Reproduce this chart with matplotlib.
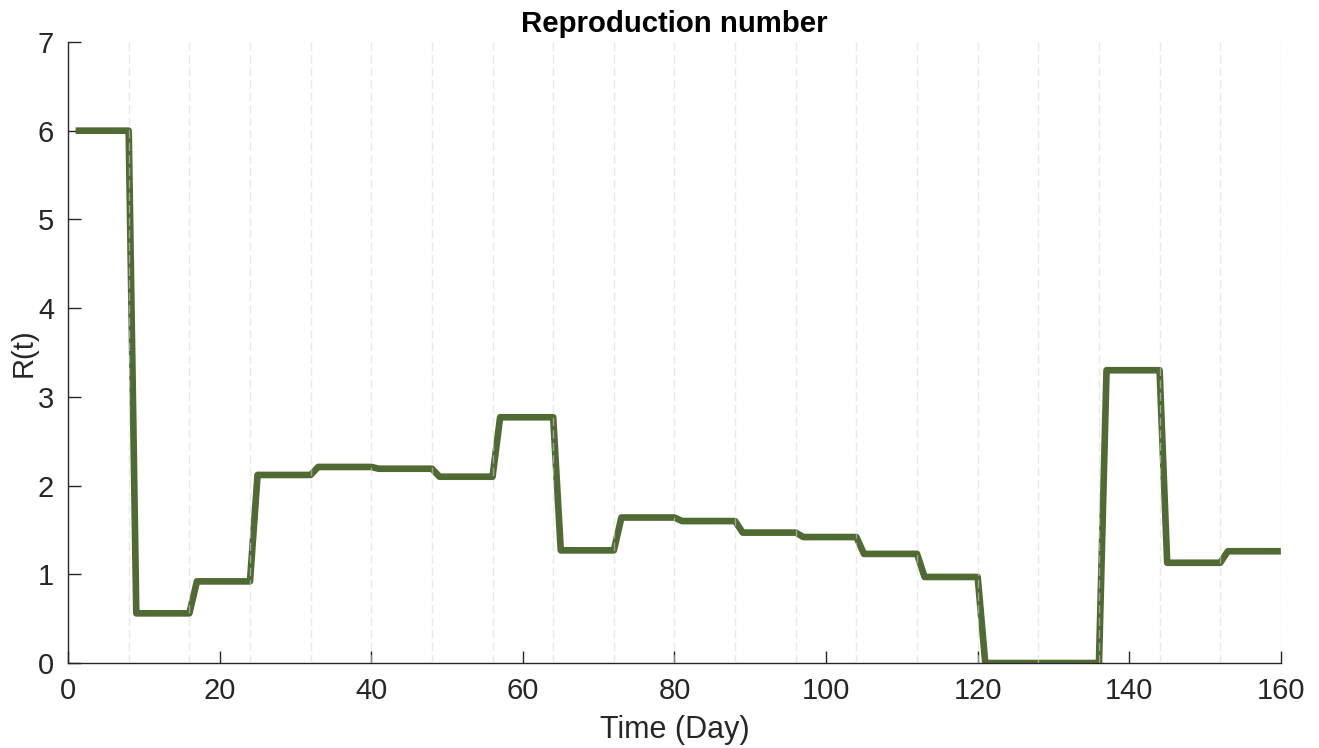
import numpy as np
import matplotlib.pyplot as plt

plt.rcParams['font.family'] = ['Liberation Sans', 'DejaVu Sans']

# one R value per 8-day block
block_len = 8
r_values = [6.00, 0.56, 0.92, 2.12, 2.21, 2.19, 2.10, 2.77, 1.27, 1.64,
            1.60, 1.47, 1.42, 1.23, 0.97, 0.00, 0.00, 3.30, 1.13, 1.26]

days = np.arange(1, block_len * len(r_values) + 1)
r_daily = np.repeat(r_values, block_len)
edges = np.arange(block_len, block_len * len(r_values) + 1, block_len)

fig = plt.figure(figsize=(13.19, 7.48), dpi=100)
ax = fig.add_axes([0.0516, 0.1136, 0.9195, 0.8303])

ax.plot(days, r_daily, color='#506a34', lw=4.8, solid_joinstyle='round',
        solid_capstyle='butt', zorder=2)

# block boundaries, drawn over the curve
for e in edges:
    ax.axvline(e, color='#d8d8d8', alpha=0.55, lw=1.0, ls=(0, (6, 3)), zorder=3)

ax.set_xlim(0, 160)
ax.set_ylim(0, 7)
ax.set_xticks(np.arange(0, 161, 20))
ax.set_yticks(np.arange(0, 8, 1))

for s in ['top', 'right']:
    ax.spines[s].set_visible(False)
for s in ['left', 'bottom']:
    ax.spines[s].set_color('#262626')
    ax.spines[s].set_linewidth(1.0)

ax.tick_params(direction='in', length=9, width=1, colors='#262626',
               labelsize=21, pad=10)

ax.set_xlabel('Time (Day)', fontsize=22, color='#262626', labelpad=7)
ax.set_ylabel('R(t)', fontsize=21, color='#262626', labelpad=0)
ax.set_title('Reproduction number', fontsize=21.2, fontweight='bold', pad=7)

fig.savefig('out.png', dpi=100)
